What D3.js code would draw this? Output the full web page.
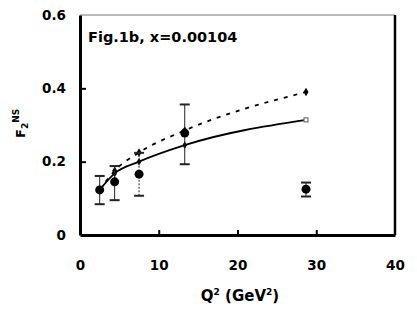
<!DOCTYPE html>
<html><head><meta charset="utf-8">
<script src="https://cdn.jsdelivr.net/npm/d3@7"></script>
<style>body{margin:0;background:#fff}svg{display:block}text{font-family:"DejaVu Sans",sans-serif;font-weight:bold}</style>
</head><body><svg id="c" width="417" height="311"></svg>
<script>
const q2 = [2.5, 4.4, 7.5, 13.3, 28.7];
const f2Data = [0.123, 0.145, 0.166, 0.278, 0.125];
const errLow = [0.084, 0.095, 0.107, 0.193, 0.105];
const errHigh = [0.161, 0.188, 0.224, 0.356, 0.143];
const modelSolid = [0.123, 0.168, 0.200, 0.245, 0.314];
const modelDashed = [0.123, 0.175, 0.225, 0.285, 0.390];
const xTicks = [0, 10, 20, 30, 40];
const yTicks = [0, 0.2, 0.4, 0.6];

const svg = d3.select("#c");
const L = 80, R = 395, T = 15, B = 235;
const x = d3.scaleLinear().domain([0, 40]).range([L, R]);
const y = d3.scaleLinear().domain([0, 0.6]).range([B, T]);

// frame
svg.append("line").attr("x1", L).attr("x2", R).attr("y1", T).attr("y2", T).attr("stroke", "#777").attr("stroke-width", 1);
svg.append("line").attr("x1", R).attr("x2", R).attr("y1", T).attr("y2", B).attr("stroke", "#000").attr("stroke-width", 2.5);

// axes
const xAxis = d3.axisBottom(x).tickValues(xTicks).tickSizeInner(-5).tickSizeOuter(0).tickPadding(25).tickFormat(d3.format("d"));
const gx = svg.append("g").attr("transform", `translate(0,${B})`).call(xAxis);
gx.select(".domain").attr("stroke-width", 3);
gx.selectAll(".tick line").attr("stroke-width", 2).filter(d => d === 0 || d === 40).remove();
gx.selectAll("text").attr("font-size", 13.5).attr("fill", "#000").attr("font-family", "DejaVu Sans");

const yAxis = d3.axisLeft(y).tickValues(yTicks).tickSizeInner(-6).tickSizeOuter(0).tickPadding(14).tickFormat(d => d === 0 ? "0" : d3.format(".1f")(d));
const gy = svg.append("g").attr("transform", `translate(${L},0)`).call(yAxis);
gy.select(".domain").attr("stroke-width", 3);
gy.selectAll(".tick line").attr("stroke-width", 2).filter(d => d === 0 || d === 0.6).remove();
gy.selectAll("text").attr("font-size", 13.5).attr("fill", "#000").attr("font-family", "DejaVu Sans");

// model curves
const line = d3.line().x((d, i) => x(q2[i])).y(d => y(d)).curve(d3.curveMonotoneX);
svg.append("path").attr("d", line(modelSolid)).attr("fill", "none").attr("stroke", "#000").attr("stroke-width", 1.8);
svg.append("path").attr("d", line(modelDashed)).attr("fill", "none").attr("stroke", "#000").attr("stroke-width", 1.8).attr("stroke-dasharray", "4,6");

// model markers
svg.selectAll(".ms").data(modelSolid).enter().append("path")
  .attr("transform", (d, i) => `translate(${x(q2[i])},${y(d)})`)
  .attr("d", (d, i) => i === q2.length - 1 ? d3.symbol(d3.symbolSquare, 16)() : d3.symbol(d3.symbolDiamond, 18)())
  .attr("fill", (d, i) => i === q2.length - 1 ? "#fff" : "#000").attr("stroke", (d, i) => i === q2.length - 1 ? "#777" : "none").attr("stroke-width", 1.2);
svg.selectAll(".md").data(modelDashed).enter().append("path")
  .attr("transform", (d, i) => `translate(${x(q2[i])},${y(d)})`)
  .attr("d", d3.symbol(d3.symbolDiamond, 22)()).attr("fill", "#000");

// error bars
const eb = svg.selectAll(".eb").data(q2).enter().append("g");
eb.append("line").attr("x1", d => x(d)).attr("x2", d => x(d))
  .attr("y1", (d, i) => y(errLow[i])).attr("y2", (d, i) => y(errHigh[i]))
  .attr("stroke", "#222").attr("stroke-width", 1)
  .attr("stroke-dasharray", (d, i) => i === 2 ? "2,1.5" : null);
[errLow, errHigh].forEach(arr => {
  eb.append("line").attr("x1", d => x(d) - 5).attr("x2", d => x(d) + 5)
    .attr("y1", (d, i) => y(arr[i])).attr("y2", (d, i) => y(arr[i]))
    .attr("stroke", "#222").attr("stroke-width", 2);
});
svg.selectAll(".pt").data(f2Data).enter().append("circle")
  .attr("cx", (d, i) => x(q2[i])).attr("cy", d => y(d)).attr("r", 4.5).attr("fill", "#000");

// texts
svg.append("text").attr("x", 88).attr("y", 42).attr("font-size", 14.5).text("Fig.1b, x=0.00104");
const yl = svg.append("text").attr("transform", "translate(25,138) rotate(-90)").attr("font-size", 13);
yl.append("tspan").text("F");
yl.append("tspan").attr("font-size", 9).attr("dy", 3).text("2");
yl.append("tspan").attr("font-size", 9).attr("dy", -9).text("NS");
const xl = svg.append("text").attr("x", 240).attr("y", 301).attr("text-anchor", "middle").attr("font-size", 15);
xl.append("tspan").text("Q");
xl.append("tspan").attr("font-size", 9).attr("dy", -6).text("2");
xl.append("tspan").attr("dy", 6).text(" (GeV");
xl.append("tspan").attr("font-size", 9).attr("dy", -6).text("2");
xl.append("tspan").attr("dy", 6).text(")");
</script></body></html>
